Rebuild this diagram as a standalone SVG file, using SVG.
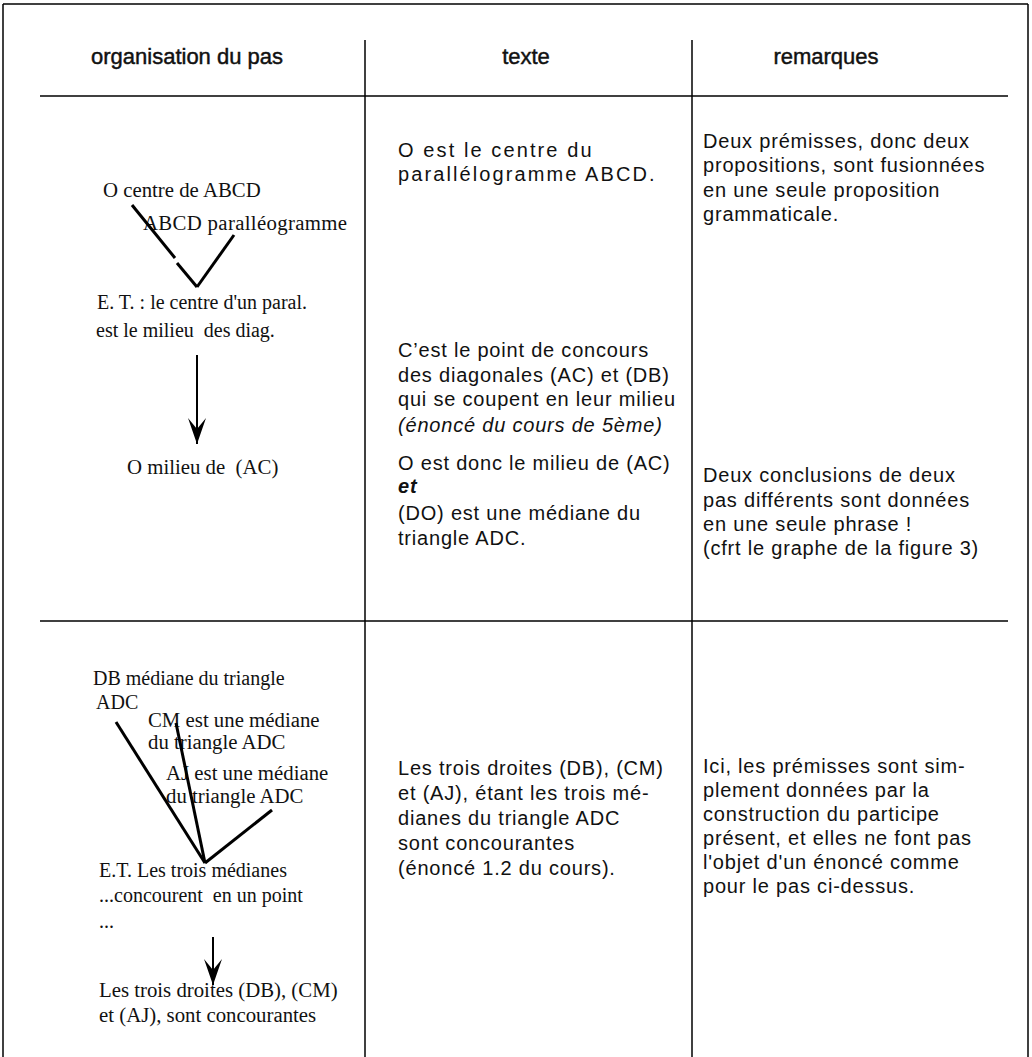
<svg xmlns="http://www.w3.org/2000/svg" width="1032" height="1057" viewBox="0 0 1032 1057">
<style>
.rule{stroke:#000;stroke-width:1.5;fill:none}
.hd{font-family:"Liberation Sans",Arial,sans-serif;font-size:22px;fill:#111;stroke:#111;stroke-width:0.45}
.sans{font-family:"Liberation Sans",Arial,sans-serif;font-size:20px;letter-spacing:0.8px;fill:#111}
.wide{letter-spacing:2.1px}
.serif{font-family:"Liberation Serif","Times New Roman",serif;font-size:20.8px;fill:#111}
.s20{font-size:20px}
.edge{stroke:#000;stroke-width:3;fill:none}
.arr{stroke:#000;stroke-width:2;fill:none;marker-end:url(#ah)}
</style>
<defs>
<marker id="ah" viewBox="0 0 26 18" refX="26" refY="9" markerUnits="userSpaceOnUse" markerWidth="26" markerHeight="18" orient="auto">
<path d="M0,0 L26,9 L0,18 L11,9 Z" fill="#000"/>
</marker>
</defs>
<rect width="1032" height="1057" fill="#fff"/>
<g id="table">
<line class="rule" x1="3" y1="4" x2="1028" y2="4" stroke-width="2"/>
<line class="rule" x1="3" y1="4" x2="3" y2="1057"/>
<line class="rule" x1="1028" y1="4" x2="1028" y2="1057"/>
<line class="rule" x1="365" y1="40" x2="365" y2="1057"/>
<line class="rule" x1="692" y1="40" x2="692" y2="1057"/>
<line class="rule" x1="40" y1="96" x2="1008" y2="96"/>
<line class="rule" x1="40" y1="621" x2="1008" y2="621"/>
</g>
<g id="headers">
<text class="hd" x="187" y="64" text-anchor="middle">organisation du pas</text>
<text class="hd" x="526" y="64" text-anchor="middle">texte</text>
<text class="hd" x="826" y="64" text-anchor="middle">remarques</text>
</g>
<g id="n-o-centre"><text class="serif" x="103" y="197" font-size="21">O centre de ABCD</text></g>
<g id="n-abcd-para"><text class="serif" x="143" y="230" textLength="204">ABCD paralléogramme</text></g>
<g id="n-et1"><text class="serif s20" x="97" y="309">E. T. : le centre d'un paral.</text><text class="serif s20" x="96" y="337" xml:space="preserve">est le milieu  des diag.</text></g>
<g id="n-o-milieu"><text class="serif" x="127" y="474" xml:space="preserve">O milieu de  (AC)</text></g>
<g id="n-db"><text class="serif s20" x="93" y="685">DB médiane du triangle</text><text class="serif s20" x="96" y="709">ADC</text></g>
<g id="n-cm"><text class="serif" x="148" y="727">CM est une médiane</text><text class="serif" x="148" y="749">du triangle ADC</text></g>
<g id="n-aj"><text class="serif" x="166" y="780">AJ est une médiane</text><text class="serif" x="166" y="803">du triangle ADC</text></g>
<g id="n-et2"><text class="serif s20" x="99" y="877">E.T. Les trois médianes</text><text class="serif s20" x="99" y="902" xml:space="preserve">...concourent  en un point</text><text class="serif s20" x="99" y="928">...</text></g>
<g id="n-concl"><text class="serif" x="99" y="997">Les trois droites (DB), (CM)</text><text class="serif" x="99" y="1022">et (AJ), sont concourantes</text></g>
<g id="connectors">
<line class="edge" x1="132" y1="205" x2="175" y2="258"/>
<line class="edge" x1="177" y1="263" x2="197" y2="287"/>
<line class="edge" x1="197" y1="287" x2="234" y2="235"/>
<line class="arr" x1="197" y1="355" x2="197" y2="444"/>
<line class="edge" x1="116" y1="722" x2="205" y2="863"/>
<line class="edge" x1="176" y1="723" x2="205" y2="863"/>
<line class="edge" x1="272" y1="810" x2="205" y2="863"/>
<line class="arr" x1="213" y1="937" x2="213" y2="985"/>
</g>
<g id="texte-1" class="sans wide">
<text x="398" y="157">O est le centre du</text>
<text x="398" y="181">parallélogramme ABCD.</text>
</g>
<g id="texte-2" class="sans">
<text x="398" y="357">C’est le point de concours</text>
<text x="398" y="382">des diagonales (AC) et (DB)</text>
<text x="398" y="406">qui se coupent en leur milieu</text>
<text x="398" y="432" font-style="italic">(énoncé du cours de 5ème)</text>
</g>
<g id="texte-3" class="sans">
<text x="398" y="470">O est donc le milieu de (AC)</text>
<text x="398" y="493" font-style="italic" font-weight="bold">et</text>
<text x="398" y="520">(DO) est une médiane du</text>
<text x="398" y="545">triangle ADC.</text>
</g>
<g id="texte-4" class="sans">
<text x="398" y="775">Les trois droites (DB), (CM)</text>
<text x="398" y="800">et (AJ), étant les trois mé-</text>
<text x="398" y="825">dianes du triangle ADC</text>
<text x="398" y="850">sont concourantes</text>
<text x="398" y="875">(énoncé 1.2 du cours).</text>
</g>
<g id="rem-1" class="sans">
<text x="703" y="148">Deux prémisses, donc deux</text>
<text x="703" y="172">propositions, sont fusionnées</text>
<text x="703" y="197">en une seule proposition</text>
<text x="703" y="221">grammaticale.</text>
</g>
<g id="rem-2" class="sans">
<text x="703" y="482">Deux conclusions de deux</text>
<text x="703" y="507">pas différents sont données</text>
<text x="703" y="531">en une seule phrase !</text>
<text x="703" y="555">(cfrt le graphe de la figure 3)</text>
</g>
<g id="rem-3" class="sans">
<text x="703" y="773">Ici, les prémisses sont sim-</text>
<text x="703" y="797">plement données par la</text>
<text x="703" y="821">construction du participe</text>
<text x="703" y="845">présent, et elles ne font pas</text>
<text x="703" y="869">l'objet d'un énoncé comme</text>
<text x="703" y="893">pour le pas ci-dessus.</text>
</g>
</svg>
